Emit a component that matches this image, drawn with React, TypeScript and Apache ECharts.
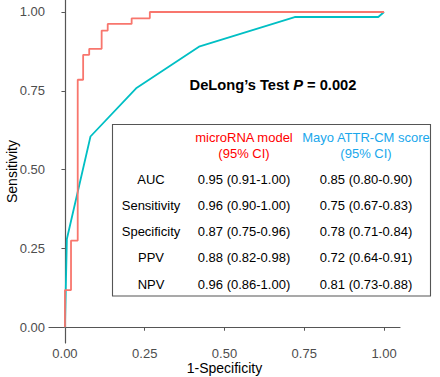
import React, { useEffect, useRef } from "react";
import * as echarts from "echarts";

// ROC curve points (1-Specificity, Sensitivity)
const mirnaFpr = [0, 0, 0.019, 0.04, 0.057, 0.076, 0.115, 0.134, 0.209, 0.266, 1];
const mirnaTpr = [0, 0.118, 0.275, 0.785, 0.864, 0.883, 0.941, 0.962, 0.98, 1, 1];
const mayoFpr = [0, 0.006, 0.08, 0.223, 0.42, 0.72, 0.982, 1];
const mayoTpr = [0, 0.28, 0.605, 0.758, 0.89, 0.984, 0.984, 1];

const tickValues = [0, 0.25, 0.5, 0.75, 1];

const metricLabels = ["AUC", "Sensitivity", "Specificity", "PPV", "NPV"];
const mirnaValues = [
  "0.95 (0.91-1.00)",
  "0.96 (0.90-1.00)",
  "0.87 (0.75-0.96)",
  "0.88 (0.82-0.98)",
  "0.96 (0.86-1.00)",
];
const mayoValues = [
  "0.85 (0.80-0.90)",
  "0.75 (0.67-0.83)",
  "0.78 (0.71-0.84)",
  "0.72 (0.64-0.91)",
  "0.81 (0.73-0.88)",
];
const headers = ["microRNA model", "Mayo ATTR-CM score"];
const pValueText = "0.002";

const FONT = "Liberation Sans, Arial, sans-serif";
const RED = "#F8766D";
const TEAL = "#00BFC4";

export default function App() {
  const ref = useRef<HTMLDivElement>(null);
  useEffect(() => {
    if (!ref.current) return;
    const chart = echarts.init(ref.current, undefined, { renderer: "svg" });

    const rowY = [179, 205.5, 231.5, 257.5, 284];
    const colX = [151, 244, 366];
    const tableTexts: any[] = [];
    const cell = (text: string, x: number, y: number, fill: string) => ({
      type: "text",
      x,
      y,
      z: 11,
      style: { text, fill, fontSize: 13, fontFamily: FONT, align: "center", verticalAlign: "middle" },
    });
    metricLabels.forEach((lab, i) => {
      tableTexts.push(cell(lab, colX[0], rowY[i], "#000"));
      tableTexts.push(cell(mirnaValues[i], colX[1], rowY[i], "#000"));
      tableTexts.push(cell(mayoValues[i], colX[2], rowY[i], "#000"));
    });
    const headColors = ["#FF0000", "#1AA7EC"];
    headers.forEach((h, j) => {
      tableTexts.push(cell(h, colX[j + 1], 137, headColors[j]));
      tableTexts.push(cell("(95% CI)", colX[j + 1], 153, headColors[j]));
    });

    const axisCommon = {
      type: "value",
      nameLocation: "middle",
      nameMoveOverlap: false,
      nameTextStyle: { color: "#000", fontSize: 14, fontFamily: FONT },
      axisLine: { show: true, lineStyle: { color: "#555", width: 1.2 } },
      axisTick: { show: true, length: 3.5, customValues: tickValues, lineStyle: { color: "#555" } },
      axisLabel: {
        customValues: tickValues,
        formatter: (v: number) => v.toFixed(2),
        color: "#4D4D4D",
        fontSize: 13,
        fontFamily: FONT,
        margin: 4,
      },
      splitLine: { show: false },
    };

    chart.setOption({
      animation: false,
      backgroundColor: "#fff",
      grid: { left: 49, right: 40, top: 0, bottom: 34, containLabel: false, outerBoundsMode: "none" },
      xAxis: { ...axisCommon, min: -0.05, max: 1.05, name: "1-Specificity", nameGap: 18 },
      yAxis: { ...axisCommon, min: -0.05, max: 1.038, name: "Sensitivity", nameGap: 30 },
      series: [
        {
          type: "line",
          name: "Mayo",
          data: mayoFpr.map((x, i) => [x, mayoTpr[i]]),
          showSymbol: false,
          lineStyle: { color: TEAL, width: 1.8 },
          clip: false,
        },
        {
          type: "line",
          name: "microRNA",
          step: "end",
          data: mirnaFpr.map((x, i) => [x, mirnaTpr[i]]),
          showSymbol: false,
          lineStyle: { color: RED, width: 1.8 },
          clip: false,
        },
      ],
      graphic: [
        {
          type: "text",
          x: 273,
          y: 85,
          style: {
            text: `{b|DeLong\u2019s Test }{i|P}{b| = ${pValueText}}`,
            align: "center",
            verticalAlign: "middle",
            rich: {
              b: { fontWeight: "bold", fontSize: 14.7, fontFamily: FONT, fill: "#000" },
              i: { fontWeight: "bold", fontStyle: "italic", fontSize: 14.7, fontFamily: FONT, fill: "#000" },
            },
          },
        },
        {
          type: "rect",
          z: 10,
          shape: { x: 112.5, y: 124.5, width: 318, height: 171.5 },
          style: { fill: "#fff", stroke: "#555", lineWidth: 1.1 },
        },
        ...tableTexts,
      ],
    });
    return () => chart.dispose();
  }, []);
  return (
    <div
      ref={ref}
      style={{ position: "absolute", left: 0, top: 0, width: 440, height: 377 }}
    />
  );
}
